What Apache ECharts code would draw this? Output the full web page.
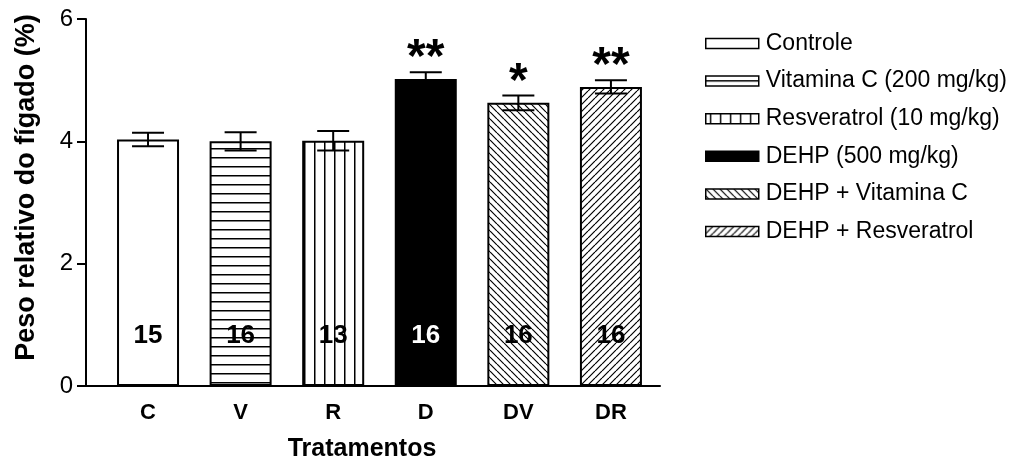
<!DOCTYPE html>
<html>
<head>
<meta charset="utf-8">
<script src="https://cdn.jsdelivr.net/npm/echarts@6/dist/echarts.min.js"></script>
<style>
  html, body { margin: 0; padding: 0; background: #fff; }
  #chart { width: 1018px; height: 467px; }
</style>
</head>
<body>
<div id="chart"></div>
<script>
// Relative liver weight per treatment group (mean ± SEM)
const categories = ['C', 'V', 'R', 'D', 'DV', 'DR'];
const groupNames = ['Controle', 'Vitamina C (200 mg/kg)', 'Resveratrol (10 mg/kg)',
                    'DEHP (500 mg/kg)', 'DEHP + Vitamina C', 'DEHP + Resveratrol'];
const means = [4.03, 4.00, 4.01, 5.02, 4.63, 4.89];
const sems = [0.11, 0.15, 0.16, 0.11, 0.12, 0.11];
const nValues = [15, 16, 13, 16, 16, 16];
const stars = ['', '', '', '**', '*', '**'];
const yTicks = [0, 2, 4, 6];

const FONT = "'Liberation Sans', Arial, Helvetica, sans-serif";

// Fill patterns: plain, horizontal lines, vertical lines, solid, "\" hatch, "/" hatch
const fills = ['plain', 'hlines', 'vlines', 'solid', 'back', 'fwd'];

function makeFill(kind) {
  if (kind === 'plain') return '#ffffff';
  if (kind === 'solid') return '#000000';
  const c = document.createElement('canvas');
  const ctx = c.getContext('2d');
  if (kind === 'hlines') {
    c.width = 10; c.height = 9;
    ctx.fillStyle = '#fff'; ctx.fillRect(0, 0, 10, 9);
    ctx.fillStyle = '#000'; ctx.fillRect(0, 4, 10, 1.5);
  } else if (kind === 'vlines') {
    c.width = 10; c.height = 10;
    ctx.fillStyle = '#fff'; ctx.fillRect(0, 0, 10, 10);
    ctx.fillStyle = '#000'; ctx.fillRect(4, 0, 1.5, 10);
  } else {
    const s = 7;
    c.width = s; c.height = s;
    ctx.fillStyle = '#fff'; ctx.fillRect(0, 0, s, s);
    ctx.strokeStyle = '#000'; ctx.lineWidth = 1.2;
    ctx.beginPath();
    for (const k of [-s, 0, s]) {
      if (kind === 'back') { ctx.moveTo(k, 0); ctx.lineTo(k + s, s); }
      else { ctx.moveTo(k + s, 0); ctx.lineTo(k, s); }
    }
    ctx.stroke();
  }
  return { image: c, repeat: 'repeat' };
}

const barSeries = groupNames.map((name, i) => ({
  name: name,
  type: 'bar',
  barWidth: 62,
  barGap: '-100%',
  data: [[i, means[i]]],
  itemStyle: { color: makeFill(fills[i]), borderColor: '#000', borderWidth: 2 },
  label: {
    show: true,
    position: 'insideBottom',
    distance: 37,
    formatter: () => String(nValues[i]),
    fontFamily: FONT,
    fontWeight: 'bold',
    fontSize: 26,
    color: fills[i] === 'solid' ? '#fff' : '#000'
  },
  emphasis: { disabled: true },
  z: 2
}));

const errorSeries = {
  type: 'custom',
  name: 'sem',
  data: means.map((m, i) => [i, m, sems[i]]),
  clip: false,
  z: 5,
  renderItem: function (params, api) {
    const x = api.value(0), m = api.value(1), e = api.value(2);
    const top = api.coord([x, m + e]);
    const bot = api.coord([x, m - e]);
    const half = 16;
    const st = { stroke: '#000', lineWidth: 2 };
    const children = [
      { type: 'line', shape: { x1: top[0], y1: top[1], x2: bot[0], y2: bot[1] }, style: st },
      { type: 'line', shape: { x1: top[0] - half, y1: top[1], x2: top[0] + half, y2: top[1] }, style: st },
      { type: 'line', shape: { x1: bot[0] - half, y1: bot[1], x2: bot[0] + half, y2: bot[1] }, style: st }
    ];
    const mark = stars[params.dataIndex];
    if (mark) {
      children.push({
        type: 'text',
        style: {
          text: mark, x: top[0], y: top[1] - 13,
          align: 'center', verticalAlign: 'middle',
          font: 'bold 48px ' + FONT, fill: '#000'
        }
      });
    }
    return { type: 'group', children: children };
  }
};

const chart = echarts.init(document.getElementById('chart'), null, { renderer: 'canvas' });
chart.setOption({
  animation: false,
  backgroundColor: '#fff',
  grid: { left: 86, right: 358, top: 19, bottom: 79, containLabel: false },
  legend: {
    data: groupNames,
    orient: 'vertical',
    left: 700,
    top: 27,
    itemWidth: 53,
    itemHeight: 10,
    itemGap: 14.6,
    icon: 'rect',
    selectedMode: false,
    itemStyle: { borderWidth: 1.5 },
    textStyle: { fontFamily: FONT, fontSize: 23, color: '#000', lineHeight: 22, padding: [0, 0, 0, 2] }
  },
  xAxis: {
    type: 'value',
    min: -0.67,
    max: 5.53,
    name: 'Tratamentos',
    nameLocation: 'middle',
    nameGap: 51,
    nameTextStyle: { fontFamily: FONT, fontWeight: 'bold', fontSize: 25, color: '#000', padding: [0, 22, 0, 0] },
    axisLine: { show: true, onZero: false, lineStyle: { color: '#000', width: 2 } },
    axisTick: { show: false },
    splitLine: { show: false },
    axisLabel: {
      customValues: categories.map((c, i) => i),
      formatter: v => categories[Math.round(v)],
      fontFamily: FONT, fontWeight: 'bold', fontSize: 22, color: '#000', margin: 16
    }
  },
  yAxis: {
    type: 'value',
    min: yTicks[0],
    max: yTicks[yTicks.length - 1],
    interval: 2,
    name: 'Peso relativo do fígado (%)',
    nameLocation: 'middle',
    nameGap: 46,
    nameTextStyle: { fontFamily: FONT, fontWeight: 'bold', fontSize: 27, color: '#000', padding: [0, 0, 0, 30] },
    axisLine: { show: true, onZero: false, lineStyle: { color: '#000', width: 2 } },
    axisTick: { show: true, length: 9, lineStyle: { color: '#000', width: 2 } },
    splitLine: { show: false },
    axisLabel: { fontFamily: FONT, fontSize: 24, color: '#000', margin: 13 }
  },
  series: [...barSeries, errorSeries]
});
</script>
</body>
</html>
